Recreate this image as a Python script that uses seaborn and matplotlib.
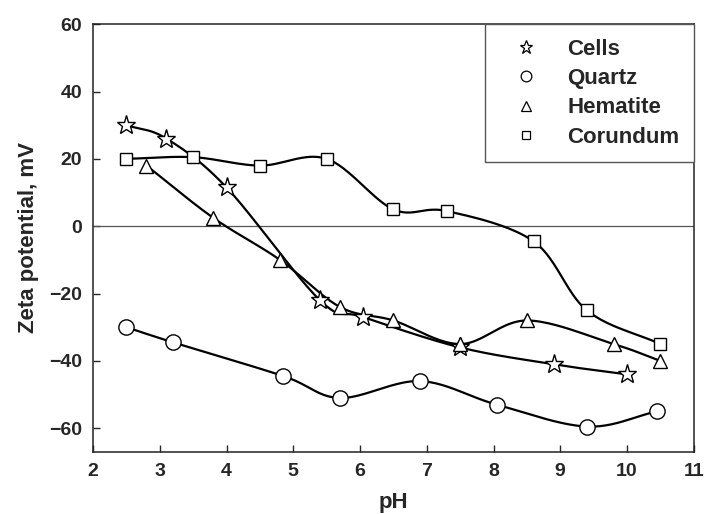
import numpy as np
import pandas as pd
import matplotlib
matplotlib.use("Agg")
import matplotlib.pyplot as plt
from matplotlib.lines import Line2D
import seaborn as sns

# values
cells_ph = [2.5, 3.1, 4.0, 5.4, 6.05, 7.5, 8.9, 10.0]
cells_zeta = [30, 26, 11.5, -22, -27, -36, -41, -44]

quartz_ph = [2.5, 3.2, 4.85, 5.7, 6.9, 8.05, 9.4, 10.45]
quartz_zeta = [-30, -34.5, -44.5, -51, -46, -53, -59.5, -55]

hematite_ph = [2.8, 3.8, 4.8, 5.7, 6.5, 7.5, 8.5, 9.8, 10.5]
hematite_zeta = [18, 2.5, -10, -24, -28, -35, -28, -35, -40]

corundum_ph = [2.5, 3.5, 4.5, 5.5, 6.5, 7.3, 8.6, 9.4, 10.5]
corundum_zeta = [20, 20.5, 18, 20, 5, 4.5, -4.5, -25, -35]

names = ["Cells", "Quartz", "Hematite", "Corundum"]
markers = {"Cells": "*", "Quartz": "o", "Hematite": "^", "Corundum": "s"}
msize = {"Cells": 14, "Quartz": 11, "Hematite": 10, "Corundum": 8.5}

df = pd.concat([
    pd.DataFrame({"pH": cells_ph, "zeta": cells_zeta, "sample": "Cells"}),
    pd.DataFrame({"pH": quartz_ph, "zeta": quartz_zeta, "sample": "Quartz"}),
    pd.DataFrame({"pH": hematite_ph, "zeta": hematite_zeta, "sample": "Hematite"}),
    pd.DataFrame({"pH": corundum_ph, "zeta": corundum_zeta, "sample": "Corundum"}),
], ignore_index=True)


def smooth(x, y, n=24):
    # catmull-rom curve through the points, for drawing the line only
    p = np.column_stack([x, y]).astype(float)
    p = np.vstack([2 * p[0] - p[1], p, 2 * p[-1] - p[-2]])
    out = []
    t = np.linspace(0, 1, n, endpoint=False)
    for i in range(1, len(p) - 2):
        p0, p1, p2, p3 = p[i - 1], p[i], p[i + 1], p[i + 2]
        tt = t[:, None]
        seg = 0.5 * ((2 * p1) + (-p0 + p2) * tt
                     + (2 * p0 - 5 * p1 + 4 * p2 - p3) * tt ** 2
                     + (-p0 + 3 * p1 - 3 * p2 + p3) * tt ** 3)
        out.append(seg)
    out.append(p[-2][None, :])
    out = np.vstack(out)
    return out[:, 0], out[:, 1]


sns.set_style("ticks")
plt.rcParams["font.family"] = ["Liberation Sans", "DejaVu Sans"]
plt.rcParams["font.weight"] = "bold"

fig = plt.figure(figsize=(7.05, 5.14), dpi=100)
ax = fig.add_axes([0.132, 0.121, 0.852, 0.832])

ax.axhline(0, color="#555555", lw=0.9, zorder=1)

for name in names:
    d = df[df["sample"] == name]
    sx, sy = smooth(d["pH"].values, d["zeta"].values)
    sns.lineplot(x=sx, y=sy, ax=ax, color="black", lw=1.6, sort=False,
                 estimator=None, zorder=2)
    ax.plot(d["pH"], d["zeta"], ls="none", marker=markers[name],
            ms=msize[name], mfc="white", mec="black", mew=1.0, zorder=3)

ax.set_xlim(2, 11)
ax.set_ylim(-67, 60)
ax.set_xticks(range(2, 12))
ax.set_yticks(range(-60, 61, 20))
ax.tick_params(direction="in", length=5, width=1, labelsize=14, pad=8)
for lab in ax.get_xticklabels() + ax.get_yticklabels():
    lab.set_fontweight("bold")
for s in ax.spines.values():
    s.set_linewidth(1.1)
    s.set_color("#222222")

ax.set_xlabel("pH", fontsize=16, fontweight="bold", labelpad=9)
ax.set_ylabel("Zeta potential, mV", fontsize=16, fontweight="bold", labelpad=7)

handles = [Line2D([], [], ls="none", marker=markers[n], ms=msize[n] * 0.7,
                  mfc="white", mec="black", mew=0.9) for n in names]
leg = ax.legend(handles, names, loc="upper right", borderaxespad=0,
                fancybox=False, framealpha=1, edgecolor="#555555",
                prop={"size": 16, "weight": "bold"}, handlelength=2.4,
                handletextpad=0.65, labelspacing=0.38, borderpad=0.65)
leg.get_frame().set_linewidth(1.0)

fig.savefig("out.png", dpi=100)
